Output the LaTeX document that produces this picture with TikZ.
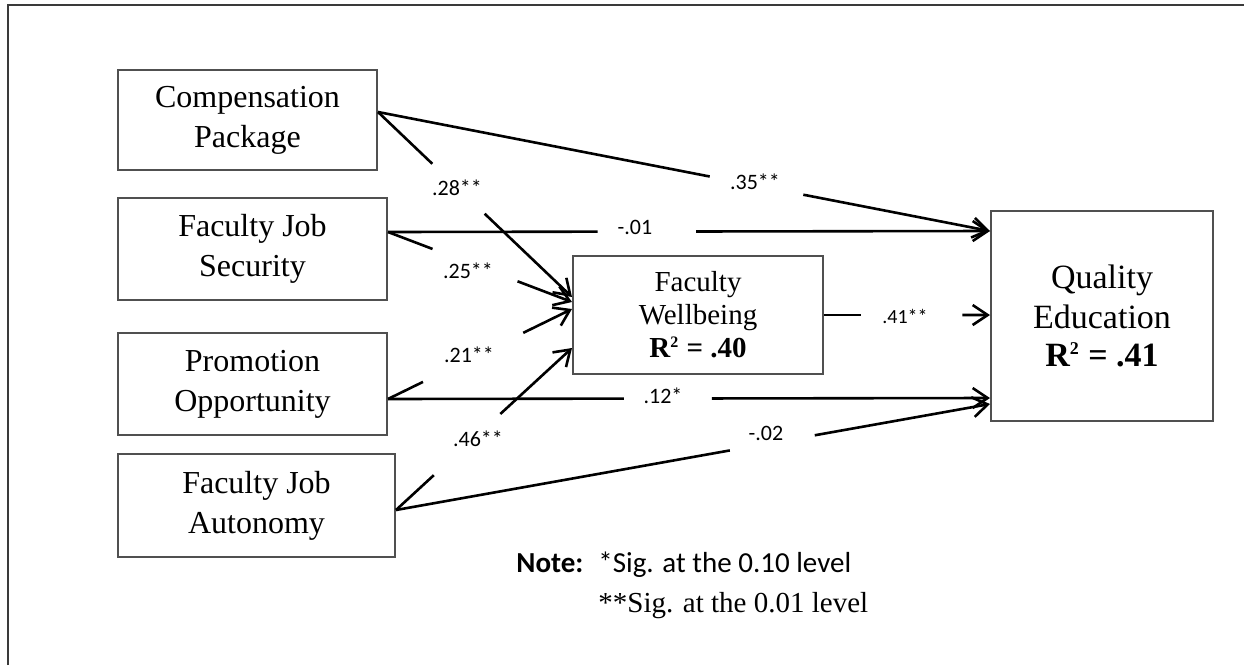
\documentclass[tikz,border=0pt]{standalone}
\usepackage{fontspec}
\setmainfont{Liberation Serif}
\newfontfamily\calfont{Carlito}
\usetikzlibrary{arrows.meta,calc}
\definecolor{boxgray}{HTML}{505050}
\definecolor{framegray}{HTML}{3A3A3A}
\begin{document}
\begin{tikzpicture}[x=0.5pt,y=-0.5pt,
  box/.style={draw=boxgray,line width=1pt,align=center,inner sep=0pt,font=\fontsize{16}{20}\selectfont},
  conn/.style={line width=1.3pt,black},
  arr/.style={conn,-{Straight Barb[length=7.5pt,width=10pt]}},
  lab/.style={font=\calfont\fontsize{11}{13}\selectfont,inner sep=0pt},
  notefont/.style={font=\fontsize{14.5}{17}\selectfont,inner sep=0pt,anchor=base west}
]
\useasboundingbox (0,0) rectangle (1244,665);
\draw[draw=framegray,line width=1pt] (8,665) -- (8,5) -- (1244,5);

% boxes
\node[box,minimum width=129.5pt,minimum height=50pt] (comp) at (247.5,120) {Compensation\\Package};
\node[box,minimum width=134.5pt,minimum height=51pt] (sec) at (252.5,249) {Faculty Job\\Security};
\node[box,minimum width=134.5pt,minimum height=51pt] (prom) at (252.5,384) {Promotion\\Opportunity};
\node[box,minimum width=138.5pt,minimum height=51.5pt] (auto) at (256.5,505.5) {Faculty Job\\Autonomy};
\node[box,minimum width=125pt,minimum height=59pt,font=\fontsize{14.5}{16.5}\selectfont] (fw) at (698,315) {Faculty\\Wellbeing\\\textbf{R\textsuperscript{\footnotesize 2} = .40}};
\node[box,minimum width=111pt,minimum height=105pt,font=\fontsize{17}{20}\selectfont] (qe) at (1102,316) {Quality\\Education\\[-1pt]\textbf{R\textsuperscript{\small 2} = .41}};

% anchor points
\coordinate (sC) at ($(comp.east)+(0,-8)$);
\coordinate (sS) at ($(sec.east)+(0,-17)$);
\coordinate (sP) at ($(prom.east)+(0,15)$);
\coordinate (sA) at ($(auto.east)+(0,4.5)$);
\coordinate (fC) at ($(fw.west)+(0,-18)$);
\coordinate (fS) at ($(fw.west)+(0,-13)$);
\coordinate (fP) at ($(fw.west)+(0,-6)$);
\coordinate (fA) at ($(fw.west)+(0,33)$);
\coordinate (qT) at ($(qe.west)+(0,-85)$);
\coordinate (qP) at ($(qe.west)+(0,82)$);
\coordinate (qA) at ($(qe.west)+(0,88)$);
\coordinate (fE) at (fw.east);
\coordinate (qM) at (fw.east -| qe.west);

% Compensation -> Quality (.35**)
\draw[conn] (sC) -- ($(sC)!0.542!(qT)$);
\draw[arr] ($(sC)!0.695!(qT)$) -- (qT);
\node[lab] (l35) at (755,182) {.35**};

% Compensation -> Wellbeing (.28**)
\draw[conn] (sC) -- ($(sC)!0.28!(fC)$);
\draw[arr] ($(sC)!0.55!(fC)$) -- (fC);
\node[lab] (l28) at (457,188) {.28**};

% Security -> Quality (-.01)
\draw[conn] (sS) -- ($(sS)!0.348!(qT)$);
\draw[arr] ($(sS)!0.512!(qT)$) -- (qT);
\node[lab] (l01) at (635,227) {-.01};

% Security -> Wellbeing (.25**)
\draw[conn] (sS) -- ($(sS)!0.242!(fS)$);
\draw[arr] ($(sS)!0.704!(fS)$) -- (fS);
\node[lab] (l25) at (468,271) {.25**};

% Promotion -> Wellbeing (.21**)
\draw[conn] (sP) -- ($(sP)!0.19!(fP)$);
\draw[arr] ($(sP)!0.735!(fP)$) -- (fP);
\node[lab] (l21) at (469,355) {.21**};

% Promotion -> Quality (.12*)
\draw[conn] (sP) -- ($(sP)!0.392!(qP)$);
\draw[arr] ($(sP)!0.538!(qP)$) -- (qP);
\node[lab] (l12) at (663,396) {.12*};

% Autonomy -> Wellbeing (.46**)
\draw[conn] (sA) -- ($(sA)!0.215!(fA)$);
\draw[arr] ($(sA)!0.593!(fA)$) -- (fA);
\node[lab] (l46) at (478,439) {.46**};

% Autonomy -> Quality (-.02)
\draw[conn] (sA) -- ($(sA)!0.562!(qA)$);
\draw[arr] ($(sA)!0.705!(qA)$) -- (qA);
\node[lab] (l02) at (766,433) {-.02};

% Wellbeing -> Quality (.41**)
\draw[conn] (fE) -- ($(fE)!0.22!(qM)$);
\draw[arr] ($(fE)!0.833!(qM)$) -- (qM);
\node[lab,font=\calfont\fontsize{10}{12}\selectfont] (l41) at (905,316) {.41**};

% note
\node[notefont,font=\calfont\bfseries\fontsize{14.5}{17}\selectfont] (note) at (516,572) {Note:};
\node[notefont,font=\calfont\fontsize{14.5}{17}\selectfont] (n1) at (598,572) {*Sig. at the 0.10 level};
\node[notefont] (n2) at (598,612) {**Sig. at the 0.01 level};
\end{tikzpicture}
\end{document}
